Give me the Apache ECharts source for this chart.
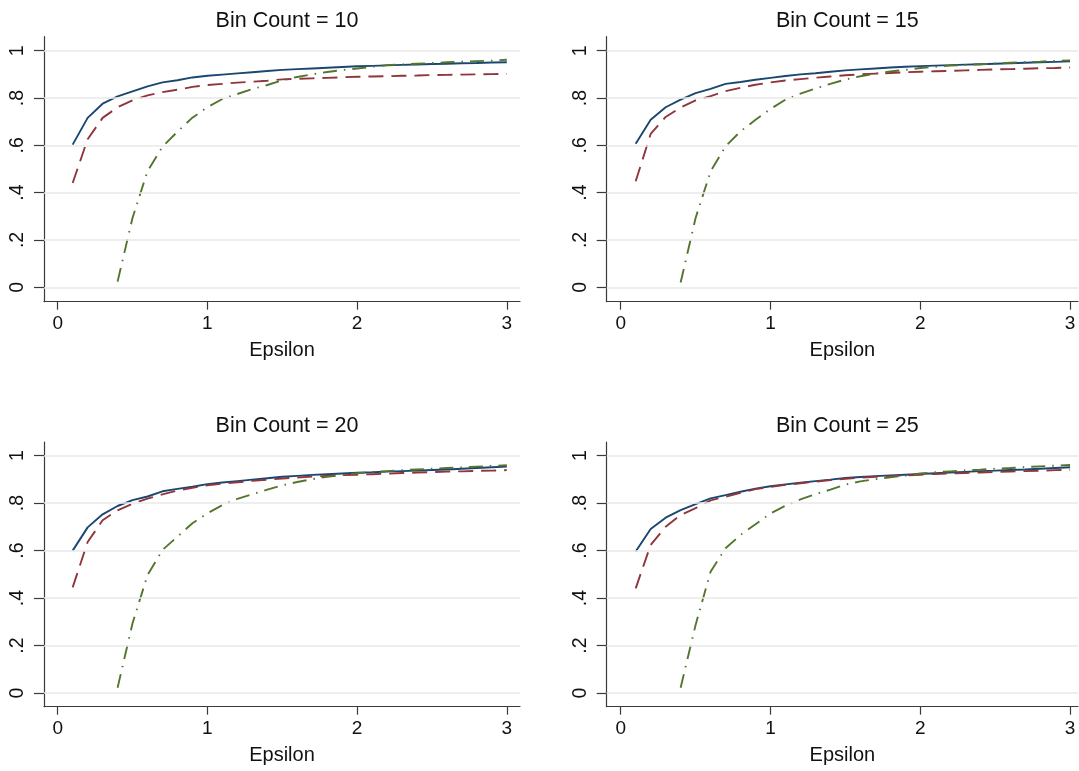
<!DOCTYPE html>
<html>
<head>
<meta charset="utf-8">
<script src="https://cdn.jsdelivr.net/npm/echarts@6/dist/echarts.min.js"></script>
<style>
html,body{margin:0;padding:0;background:#fff;}
#chart{width:1079px;height:771px;}
</style>
</head>
<body>
<div id="chart"></div>
<script>
// ---- data ----
const epsilon = [0.1,0.2,0.3,0.4,0.5,0.6,0.7,0.8,0.9,1.0,1.1,1.2,1.3,1.4,1.5,1.6,1.7,1.8,1.9,2.0,2.1,2.2,2.3,2.4,2.5,2.6,2.7,2.8,2.9,3.0];
const panelTitles = ['Bin Count = 10','Bin Count = 15','Bin Count = 20','Bin Count = 25'];
const xTicks = [0,1,2,3];
const xTickLabels = ['0','1','2','3'];
const yTicks = [0,0.2,0.4,0.6,0.8,1];
const yTickLabels = ['0','.2','.4','.6','.8','1'];
const xAxisTitle = 'Epsilon';

// Bin Count = 10
const blue10  = [.603,.716,.776,.807,.828,.849,.866,.875,.887,.894,.899,.904,.909,.914,.919,.922,.925,.928,.931,.934,.936,.938,.940,.942,.944,.945,.947,.948,.950,.951];
const red10   = [.441,.626,.716,.761,.790,.811,.825,.835,.847,.855,.860,.865,.869,.873,.879,.881,.883,.885,.888,.890,.891,.892,.894,.895,.897,.898,.899,.900,.901,.902];
const green10 = [null,null,null,.024,.294,.491,.594,.658,.717,.761,.796,.817,.838,.855,.875,.889,.900,.910,.918,.925,.932,.939,.942,.945,.948,.951,.954,.956,.958,.962];
// Bin Count = 15
const blue15  = [.607,.708,.761,.793,.821,.839,.860,.868,.877,.885,.893,.900,.905,.911,.917,.921,.925,.929,.932,.935,.937,.939,.941,.943,.945,.947,.949,.951,.953,.955];
const red15   = [.448,.648,.720,.760,.790,.808,.829,.843,.856,.866,.874,.880,.886,.891,.896,.900,.903,.906,.909,.911,.913,.915,.917,.919,.921,.922,.924,.926,.927,.929];
const green15 = [null,null,null,.020,.293,.490,.596,.659,.708,.754,.793,.819,.840,.860,.878,.892,.903,.912,.919,.927,.932,.937,.940,.943,.946,.949,.952,.954,.957,.959];
// Bin Count = 20
const blue20  = [.600,.698,.753,.788,.813,.828,.850,.860,.869,.880,.887,.893,.899,.905,.911,.915,.919,.922,.925,.928,.930,.933,.935,.937,.940,.942,.945,.948,.951,.954];
const red20   = [.445,.636,.728,.770,.798,.819,.837,.853,.865,.875,.882,.888,.894,.899,.904,.908,.912,.915,.918,.920,.922,.924,.927,.929,.931,.933,.934,.936,.937,.939];
const green20 = [null,null,null,.022,.294,.497,.603,.659,.715,.757,.792,.818,.838,.857,.875,.889,.901,.911,.918,.926,.931,.935,.939,.942,.945,.948,.951,.954,.957,.960];
// Bin Count = 25
const blue25  = [.596,.691,.739,.771,.796,.820,.834,.848,.861,.871,.879,.886,.893,.899,.906,.910,.914,.917,.920,.923,.926,.929,.932,.935,.937,.940,.942,.945,.948,.951];
const red25   = [.441,.624,.701,.750,.779,.812,.827,.844,.859,.869,.877,.884,.891,.897,.903,.907,.911,.914,.917,.920,.923,.925,.927,.929,.931,.933,.935,.937,.939,.941];
const green25 = [null,null,null,.022,.287,.511,.610,.666,.711,.757,.789,.816,.838,.857,.878,.892,.901,.909,.916,.925,.930,.934,.938,.941,.945,.948,.952,.955,.958,.961];

const panelSeries = [
  [blue10, red10, green10],
  [blue15, red15, green15],
  [blue20, red20, green20],
  [blue25, red25, green25]
];

// ---- layout / style ----
const FONT = 'Liberation Sans, Arial, Helvetica, sans-serif';
const gridBoxes = [
  {left:44,    top:36.7, width:476,   height:265},
  {left:606.7, top:36.7, width:471.3, height:265},
  {left:44,    top:442,  width:476,   height:264.7},
  {left:606.7, top:442,  width:471.3, height:264.7}
];
const xRanges = [[-0.0915,3.088],[-0.0935,3.053],[-0.0915,3.088],[-0.0935,3.053]];
const yRanges = [[-0.0609,1.0592],[-0.0609,1.0592],[-0.0577,1.0577],[-0.0577,1.0577]];
const seriesStyles = [
  {color:'#1a476f', type:'solid'},
  {color:'#90353b', type:[15,8]},
  {color:'#55752f', type:[14,7,1.5,7]}
];
const axisColor = '#3a3a3a';

function pairs(arr){
  const out = [];
  epsilon.forEach((x,i)=>{ if(arr[i] !== null) out.push([x, arr[i]]); });
  return out;
}

const option = {
  animation:false,
  backgroundColor:'#fff',
  title: gridBoxes.map((g,i)=>({
    text: panelTitles[i],
    left: g.left + g.width/2,
    top: g.top - 32,
    textAlign:'center',
    textStyle:{fontFamily:FONT, fontSize:21.5, fontWeight:'normal', color:'#111'}
  })),
  grid: gridBoxes.map(g=>Object.assign({containLabel:false}, g)),
  xAxis: gridBoxes.map((g,i)=>({
    type:'value', gridIndex:i, min:xRanges[i][0], max:xRanges[i][1],
    name:xAxisTitle, nameLocation:'middle', nameGap:39,
    nameTextStyle:{fontFamily:FONT, fontSize:20, color:'#111'},
    axisLine:{show:true, onZero:false, lineStyle:{color:axisColor, width:1.2}},
    axisTick:{show:true, length:8, customValues:xTicks, lineStyle:{color:axisColor, width:1.2}},
    axisLabel:{show:true, margin:13, customValues:xTicks, fontFamily:FONT, fontSize:19, color:'#111',
      formatter:(v)=>{ const k = xTicks.indexOf(v); return k>=0 ? xTickLabels[k] : ''; }},
    splitLine:{show:false}
  })),
  yAxis: gridBoxes.map((g,i)=>({
    type:'value', gridIndex:i, min:yRanges[i][0], max:yRanges[i][1],
    axisLine:{show:true, onZero:false, lineStyle:{color:axisColor, width:1.2}},
    axisTick:{show:true, length:10, customValues:yTicks, lineStyle:{color:axisColor, width:1.2}},
    axisLabel:{show:true, rotate:90, margin:16, customValues:yTicks, fontFamily:FONT, fontSize:19.5, color:'#111',
      formatter:(v)=>{ let k = -1; yTicks.forEach((t,j)=>{ if(Math.abs(t-v)<1e-9) k=j; }); return k>=0 ? yTickLabels[k] : ''; }},
    splitLine:{show:false}
  })),
  series: []
};

panelSeries.forEach((set,p)=>{
  // gridlines
  option.series.push({
    type:'line', xAxisIndex:p, yAxisIndex:p, data:[], z:1, silent:true,
    markLine:{silent:true, symbol:'none', label:{show:false}, animation:false,
      lineStyle:{color:'#e8e8e8', width:1.5, type:'solid'},
      emphasis:{disabled:true},
      data: yTicks.map(v=>({yAxis:v}))}
  });
  set.forEach((arr,s)=>{
    option.series.push({
      type:'line', xAxisIndex:p, yAxisIndex:p, z:2+s,
      data: pairs(arr), showSymbol:false, symbol:'none', smooth:false,
      lineStyle:{color:seriesStyles[s].color, width:1.9, type:seriesStyles[s].type}
    });
  });
});

const chart = echarts.init(document.getElementById('chart'), null, {renderer:'canvas'});
chart.setOption(option);
</script>
</body>
</html>
